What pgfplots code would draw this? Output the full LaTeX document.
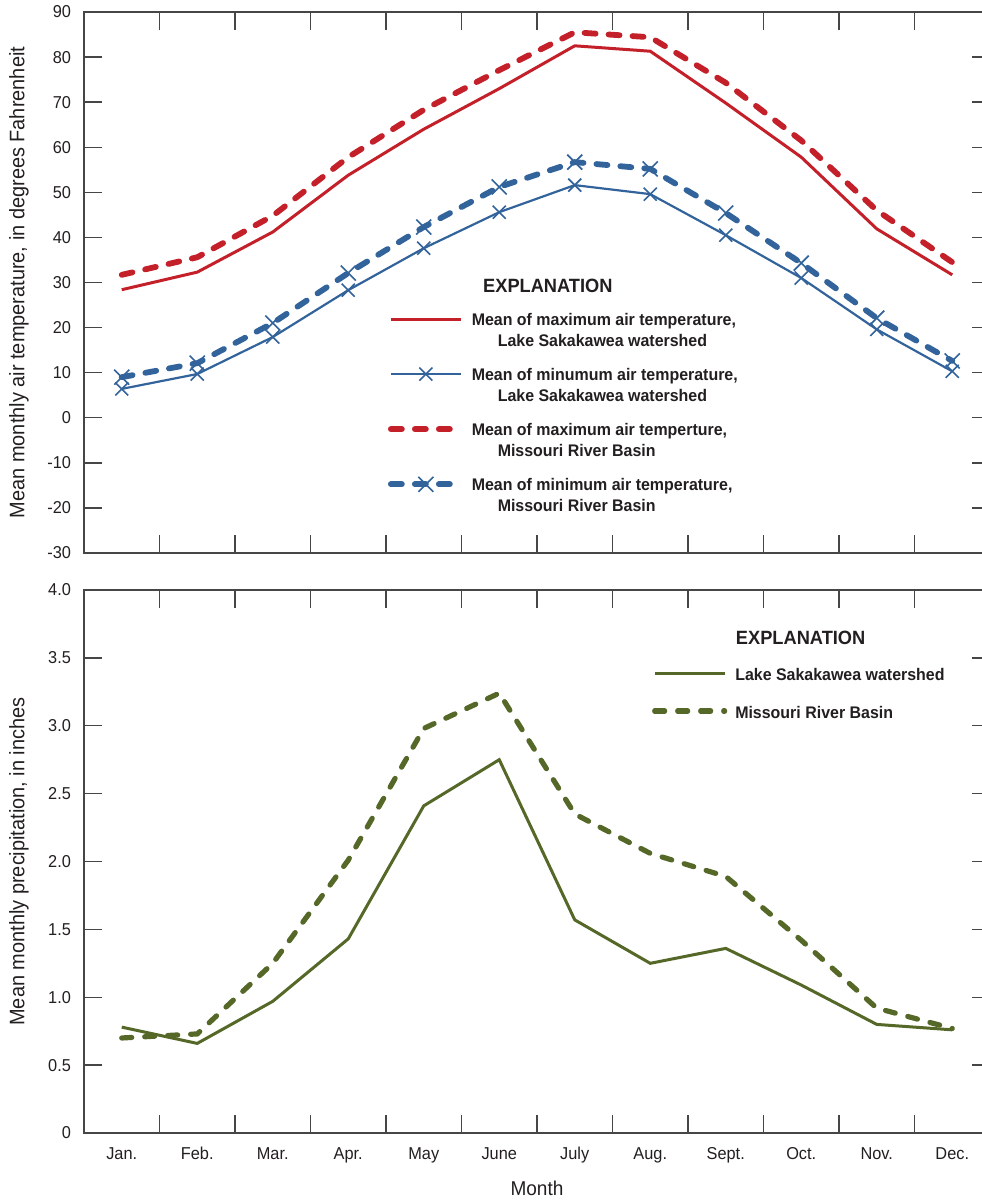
\documentclass[border=0pt]{standalone}
\usepackage{fontspec}
\setmainfont{Liberation Sans}[FakeStretch=0.95, BoldFeatures={FakeStretch=0.95}]
\usepackage{pgfplots}
\usetikzlibrary{calc}
\pgfplotsset{compat=1.18}
\definecolor{tred}{RGB}{196,32,42}
\definecolor{tblue}{RGB}{50,100,155}
\definecolor{tgreen}{RGB}{85,104,40}
\definecolor{axgray}{RGB}{70,70,70}
\definecolor{txt}{RGB}{35,31,32}

\pgfplotstableread{
m maxLake maxMO minLake minMO
1  28.4 31.7  6.4  9.0
2  32.3 35.6  9.7 12.1
3  41.2 44.8 17.9 21.0
4  53.8 57.8 28.3 32.1
5  64.0 68.3 37.6 42.3
6  73.0 77.1 45.6 51.2
7  82.5 85.5 51.6 56.7
8  81.3 84.4 49.6 55.2
9  69.8 74.3 40.5 45.4
10 57.8 61.5 31.0 34.3
11 41.9 46.0 19.6 22.1
12 31.7 34.5 10.3 12.6
}\temps

\pgfplotstableread{
m lake mo
1  0.78 0.70
2  0.66 0.73
3  0.97 1.25
4  1.43 2.01
5  2.41 2.98
6  2.75 3.24
7  1.57 2.35
8  1.25 2.06
9  1.36 1.89
10 1.09 1.42
11 0.80 0.92
12 0.76 0.77
}\precip

\pgfplotsset{
 common/.style={
  scale only axis, width=453pt,
  xmin=0.5, xmax=12.5,
  xtick={1,...,12},
  major x tick style={draw=none},
  minor xtick={1.5,2.5,...,11.5},
  tick align=inside,
  major tick length=9pt, minor tick length=9pt,
  axis line style={axgray, line width=0.7pt},
  every tick/.style={axgray, line width=0.7pt},
  tick label style={font=\fontsize{8.6}{10}\selectfont, text=txt},
  yticklabel style={xshift=-3pt},
  label style={text=txt},
  ylabel style={font=\fontsize{10.5}{12.5}\selectfont, at={(axis description cs:-0.0717,0.5)}, anchor=center},
  legend image code/.code={\draw[mark repeat=2,mark phase=2,#1] plot coordinates {(0pt,3pt) (17.5pt,3pt) (35pt,3pt)};},
  clip=false,
 },
 reddash/.style={dash pattern=on 5.5pt off 6.5pt, line cap=round},
}

\begin{document}
\begin{tikzpicture}
\begin{axis}[common, name=top,
  height=270.5pt,
  ymin=-30, ymax=90,
  ytick={-30,-20,...,90},
  yticklabels={-30,-20,-10,0,10,20,30,40,50,60,70,80,90},
  xticklabels={},
  ylabel={Mean monthly air temperature, in degrees Fahrenheit},
  legend style={draw=none, fill=none, at={(rel axis cs:0.3355,0.4486)}, anchor=north west,
    inner sep=0pt, outer sep=0pt, row sep=18.7pt, column sep=4pt,
    font=\bfseries\fontsize{8.4}{10.5}\selectfont, text=txt,
    cells={anchor=base west}, nodes={inner sep=0pt}},
]
\addplot[tred, line width=1.5pt] table[x=m, y=maxLake] {\temps};
\addlegendentry{\begin{tabular}[t]{@{}l@{}}Mean of maximum air temperature,\\\hspace*{13pt}Lake Sakakawea watershed\end{tabular}}
\addplot[tblue, line width=1.1pt, mark=x, mark size=4.6pt, mark options={solid, line width=0.8pt}] table[x=m, y=minLake] {\temps};
\addlegendentry{\begin{tabular}[t]{@{}l@{}}Mean of minumum air temperature,\\\hspace*{13pt}Lake Sakakawea watershed\end{tabular}}
\addplot[tred, line width=2.9pt, reddash] table[x=m, y=maxMO] {\temps};
\addlegendentry{\begin{tabular}[t]{@{}l@{}}Mean of maximum air temperture,\\\hspace*{13pt}Missouri River Basin\end{tabular}}
\addplot[tblue, line width=2.9pt, reddash, mark=x, mark size=5.3pt, mark options={solid, line width=0.8pt, line cap=butt}] table[x=m, y=minMO] {\temps};
\addlegendentry{\begin{tabular}[t]{@{}l@{}}Mean of minimum air temperature,\\\hspace*{13pt}Missouri River Basin\end{tabular}}
\node[anchor=base, font=\bfseries\fontsize{9.6}{12}\selectfont, text=txt, inner sep=0pt] at (rel axis cs:0.512,0.4824) {EXPLANATION};
\end{axis}

\begin{axis}[common, name=bot,
  at={($(top.south west)+(0pt,-18.5pt)$)}, anchor=north west,
  height=271.5pt,
  ymin=0, ymax=4,
  ytick={0,0.5,...,4},
  yticklabels={0,0.5,1.0,1.5,2.0,2.5,3.0,3.5,4.0},
  xticklabels={Jan.,Feb.,Mar.,Apr.,May,June,July,Aug.,Sept.,Oct.,Nov.,Dec.},
  xticklabel style={anchor=base, yshift=-13pt},
  ylabel={Mean monthly precipitation, in inches},
  xlabel={Month},
  xlabel style={font=\fontsize{10}{12}\selectfont, at={(axis description cs:0.5,0)}, anchor=base, yshift=-31pt},
  legend style={draw=none, fill=none, at={(rel axis cs:0.627,0.860)}, anchor=north west,
    inner sep=0pt, outer sep=0pt, row sep=12pt, column sep=4pt,
    font=\bfseries\fontsize{8.4}{10.5}\selectfont, text=txt,
    cells={anchor=base west}, nodes={inner sep=0pt, text height=7pt, text depth=0pt}},
  legend image code/.code={\draw[#1] (0pt,3.5pt) -- (35pt,3.5pt);},
]
\addplot[tgreen, line width=1.5pt] table[x=m, y=lake] {\precip};
\addlegendentry{Lake Sakakawea watershed}
\addplot[tgreen, line width=2.6pt, dash pattern=on 5pt off 6.5pt, line cap=round] table[x=m, y=mo] {\precip};
\addlegendentry{Missouri River Basin}
\node[anchor=base, font=\bfseries\fontsize{9.6}{12}\selectfont, text=txt, inner sep=0pt] at (rel axis cs:0.791,0.899) {EXPLANATION};
\end{axis}
\pgfresetboundingbox
\path ([shift={(-42pt,6pt)}]top.north west) rectangle ([shift={(448.5pt,-33.5pt)}]bot.south west);
\end{tikzpicture}
\end{document}
